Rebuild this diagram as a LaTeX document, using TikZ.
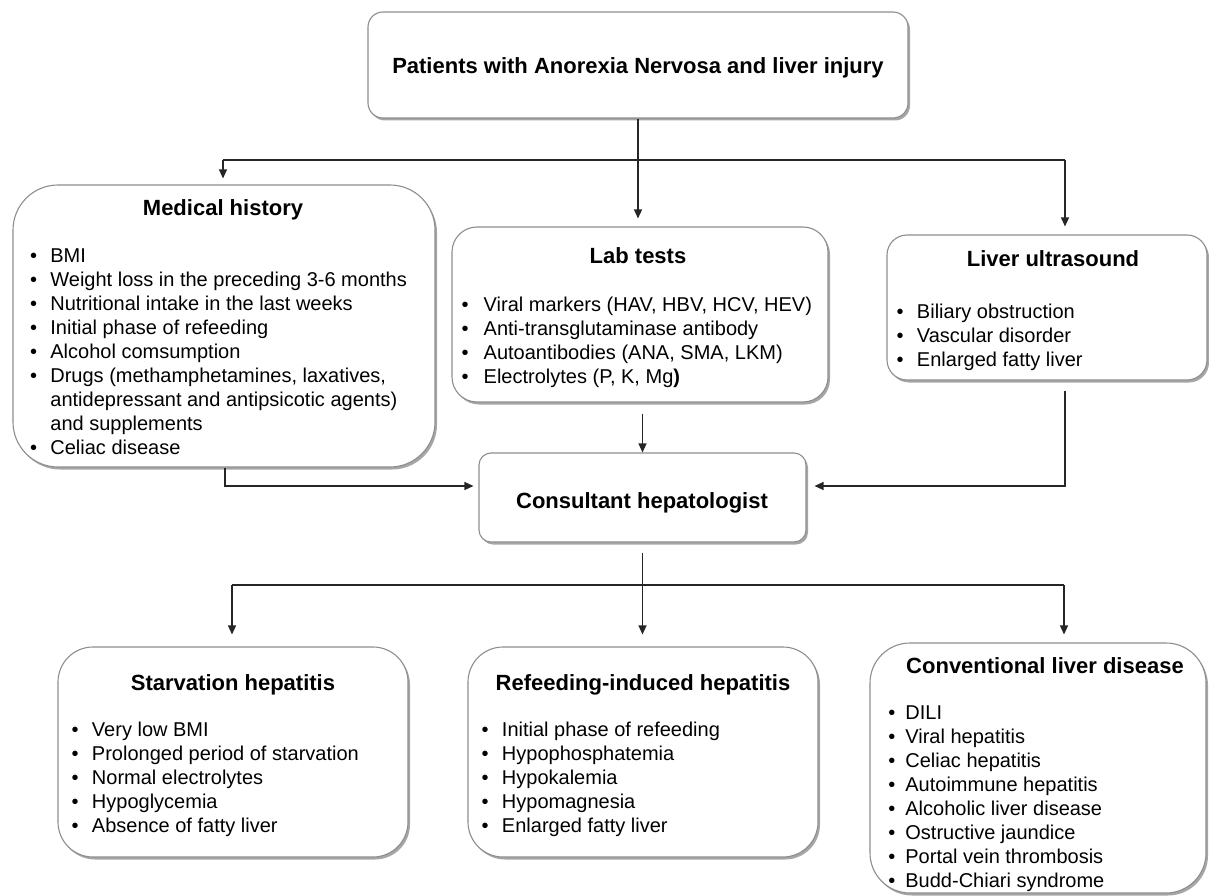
\documentclass[tikz,border=0pt]{standalone}
\usepackage{fontspec}
\setmainfont{Liberation Sans}
\usetikzlibrary{arrows.meta,shadows}
\definecolor{boxgray}{HTML}{8E8E8E}
\newcommand{\blist}[2]{\begin{tabular}[t]{@{}p{#1pt}@{}l@{}}#2\end{tabular}}
\newcommand{\itm}{\textbullet &}
\tikzset{
  box/.style={draw=boxgray, line width=1.1pt, fill=white, inner sep=0pt,
    drop shadow={shadow xshift=2pt, shadow yshift=-2.5pt, opacity=0.35, fill=black}},
  ttl/.style={font=\fontsize{22}{26}\selectfont\bfseries, anchor=base, inner sep=0pt},
  lst/.style={font=\fontsize{20}{24}\selectfont, anchor=base west, inner sep=0pt},
  ln/.style={draw=black!85, line width=1.2pt},
  arr/.style={ln, -{Triangle[width=8pt,length=9pt]}}
}
\begin{document}
\begin{tikzpicture}[x=1pt,y=-1pt]
\useasboundingbox (0,0) rectangle (1209,896);
% boxes
\node[box, minimum width=540, minimum height=106, rounded corners=15pt] (top) at (638,65) {};
\node[box, minimum width=422, minimum height=282, rounded corners=45pt] (mh) at (224,326) {};
\node[box, minimum width=376, minimum height=175, rounded corners=25pt] (lt) at (640,314.5) {};
\node[box, minimum width=320, minimum height=145, rounded corners=20pt] (lu) at (1047,307.5) {};
\node[box, minimum width=327, minimum height=89, rounded corners=12pt] (ch) at (642.5,497.5) {};
\node[box, minimum width=350, minimum height=210, rounded corners=35pt] (sh) at (233,752) {};
\node[box, minimum width=350, minimum height=210, rounded corners=35pt] (rf) at (643,752) {};
\node[box, minimum width=336, minimum height=250, rounded corners=40pt] (cv) at (1038,768) {};
% titles
\node[ttl] (topt) at (638,74) {Patients with Anorexia Nervosa and liver injury};
\node[ttl] (mht) at (223,215) {Medical history};
\node[ttl] (ltt) at (638,263.3) {Lab tests};
\node[ttl] (lut) at (1053,266.7) {Liver ultrasound};
\node[ttl] (cht) at (642,508) {Consultant hepatologist};
\node[ttl] (sht) at (233,690) {Starvation hepatitis};
\node[ttl] (rft) at (643,690) {Refeeding-induced hepatitis};
\node[ttl] (cvt) at (1045,673.3) {Conventional liver disease};
% lists
\node[lst] (mhl) at (29.8,262) {\blist{20.4}{%
\itm BMI\\
\itm Weight loss in the preceding 3-6 months\\
\itm Nutritional intake in the last weeks\\
\itm Initial phase of refeeding\\
\itm Alcohol comsumption\\
\itm Drugs (methamphetamines, laxatives,\\
 & antidepressant and antipsicotic agents)\\
 & and supplements\\
\itm Celiac disease}};
\node[lst] (ltl) at (461.5,311.7) {\blist{22}{%
\itm Viral markers (HAV, HBV, HCV, HEV)\\
\itm Anti-transglutaminase antibody\\
\itm Autoantibodies (ANA, SMA, LKM)\\
\itm Electrolytes (P, K, Mg\textbf{)}}};
\node[lst] (lul) at (896.5,318.3) {\blist{20.3}{%
\itm Biliary obstruction\\
\itm Vascular disorder\\
\itm Enlarged fatty liver}};
\node[lst] (shl) at (71.5,736.7) {\blist{20.3}{%
\itm Very low BMI\\
\itm Prolonged period of starvation\\
\itm Normal electrolytes\\
\itm Hypoglycemia\\
\itm Absence of fatty liver}};
\node[lst] (rfl) at (481.5,736) {\blist{20.3}{%
\itm Initial phase of refeeding\\
\itm Hypophosphatemia\\
\itm Hypokalemia\\
\itm Hypomagnesia\\
\itm Enlarged fatty liver}};
\node[lst] (cvl) at (888.2,719.3) {\blist{17}{%
\itm DILI\\
\itm Viral hepatitis\\
\itm Celiac hepatitis\\
\itm Autoimmune hepatitis\\
\itm Alcoholic liver disease\\
\itm Ostructive jaundice\\
\itm Portal vein thrombosis\\
\itm Budd-Chiari syndrome}};
% connectors top
\coordinate (j1) at (638,160);
\coordinate (jl) at (223,160);
\coordinate (jr) at (1065,160);
\draw[ln] (top.south) -- (j1);
\draw[ln] (jl) -- (jr);
\draw[arr, shorten >=6pt] (jl) -- (jl |- mh.north);
\draw[arr, shorten >=8pt] (j1) -- (j1 |- lt.north);
\draw[arr, shorten >=8pt] (jr) -- (jr |- lu.north);
% into consultant
\coordinate (cl) at (225,486);
\coordinate (cr) at (1065,486);
\draw[arr, shorten >=5pt] (cl |- mh.south) -- (cl) -- (cl -| ch.west);
\draw[arr, shorten <=10pt, shorten >=8pt] (cr |- lu.south) -- (cr) -- (cr -| ch.east);
\draw[arr, shorten <=11pt] (lt.south -| ch.north) -- (ch.north);
% out of consultant
\coordinate (j2) at (642.5,585);
\coordinate (bl) at (232,585);
\coordinate (br) at (1064,585);
\draw[ln, shorten <=10pt] (ch.south) -- (j2);
\draw[ln] (bl) -- (br);
\draw[arr, shorten >=12pt] (bl) -- (bl |- sh.north);
\draw[arr, shorten >=12pt] (j2) -- (j2 |- rf.north);
\draw[arr, shorten >=8pt] (br) -- (br |- cv.north);
\end{tikzpicture}
\end{document}
